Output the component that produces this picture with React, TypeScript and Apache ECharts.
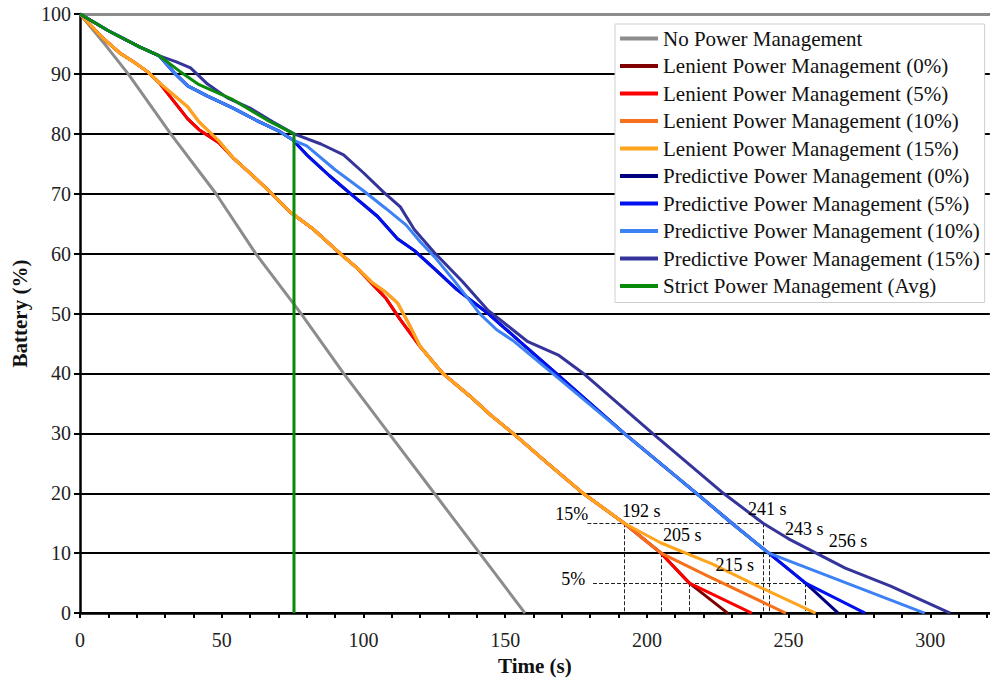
import { useEffect, useRef } from 'react';
import * as echarts from 'echarts';

const FONT = "'Liberation Serif', 'Times New Roman', serif";

const seriesNames = [
  'No Power Management',
  'Lenient Power Management (0%)',
  'Lenient Power Management (5%)',
  'Lenient Power Management (10%)',
  'Lenient Power Management (15%)',
  'Predictive Power Management (0%)',
  'Predictive Power Management (5%)',
  'Predictive Power Management (10%)',
  'Predictive Power Management (15%)',
  'Strict Power Management (Avg)',
];

const seriesColors = [
  '#8c8c8c', '#800000', '#ff0000', '#f7701c', '#ffa41c',
  '#000080', '#0010ee', '#3d82f5', '#34349a', '#0a8a0a',
];

const xTicks = [0, 50, 100, 150, 200, 250, 300];

// [time (s), battery (%)]
const noPM = [
  [0, 100], [9, 94.8], [17, 90], [32, 80], [48, 70], [62, 60], [78, 50],
  [93, 40], [109, 30], [125, 20], [141, 10], [149, 5], [157, 0],
];

const strictAvg = [
  [0, 100], [10, 97.2], [21, 94.5], [28, 93], [35, 90.5], [42, 88.2], [54, 85.7],
  [66, 82.3], [75.5, 80], [75.5, 0],
];

const lenientEarly = [
  [0, 100], [8, 96], [14, 93.5], [19, 92], [24, 90.3], [28, 88.5],
];
const lenientEarlyA = [
  [33, 85.5], [38, 82.5], [42, 80.7], [49, 78.5],
];
const lenientEarlyB = [
  [33, 86.5], [38, 84.5], [42, 82], [49, 78.8],
];
const lenientMidA = [
  [54, 76], [61, 73], [67.7, 70], [74, 67], [82, 64.2], [91.8, 60], [98, 57.5],
  [103, 55], [108, 52.5], [113, 49],
];
const lenientMidB = [
  [54, 76], [61, 73], [67.7, 70], [74, 67], [82, 64.2], [91.8, 60], [98, 57.5],
  [103, 55.2], [108, 53.5], [112, 51.8], [116, 48.3],
];
const lenientLate = [
  [120, 44.5], [128, 40], [137.6, 36.2], [145, 33], [152.8, 30], [165, 25],
  [177.5, 20], [192, 15],
];
const lenientTo10 = [[205, 10]];
const lenientTo5 = [[215, 5]];
const lenient0Tail = [[228.5, 0]];
const lenient5Tail = [[237, 0]];
const lenient10Tail = [[221, 6.3], [249, 0]];
const lenient15Tail = [[205, 11.7], [223, 8.2], [240, 4.3], [259.5, 0]];

const predictiveEarly = [
  [0, 100], [10, 97.2], [21, 94.5], [28, 93],
];
const predictiveBlueMid = [
  [33, 90.3], [38, 88], [45, 86.3], [54, 84.3], [62, 82.3], [70, 80.5], [75, 79],
];
const predictive5Mid = [
  [80, 76.5], [88, 73], [95, 70.2], [105, 66.2], [112, 62.5], [118, 60.5],
  [125, 57.5], [133, 54], [144, 50], [150, 47.5], [156, 45], [168, 40],
];
const predictive10Mid = [
  [80, 78], [90, 74], [100, 70.5], [108, 67.5], [115, 64.8], [120, 62],
  [125, 59.5], [132, 55.5], [141, 50], [147, 47.3], [153, 45.4], [168, 39.5],
];
const predictiveLate = [
  [192, 30], [217.5, 20], [230, 15], [243, 10],
];
const predictiveTo5 = [[256, 5]];
const predictive0Tail = [[267.5, 0]];
const predictive5Tail = [[277, 0]];
const predictive10Tail = [[298, 0]];
const predictive15 = [
  [34, 92], [39, 91], [45, 88.3], [52, 86], [60, 84.3], [68, 82], [75.5, 80],
  [85, 78.3], [93, 76.5], [100, 73.5], [107, 70.3], [113, 67.8], [118, 64],
  [125, 60.2], [135, 55.3], [144, 50.5], [150, 48.3], [158, 45.3], [169, 43],
  [177.6, 40], [202, 30], [227, 20], [241, 15], [250, 12.4], [270, 7.5],
  [286, 4.5], [307, 0],
];

// annotation guides
const thresholdLines = [
  { from: [179, 15], to: [241, 15] },
  { from: [181, 5], to: [256, 5] },
  { from: [192, 15], to: [192, 0] },
  { from: [205, 10], to: [205, 0] },
  { from: [215, 5], to: [215, 0] },
  { from: [241, 15], to: [241, 0] },
  { from: [243, 10], to: [243, 0] },
  { from: [256, 5], to: [256, 0] },
];
const annotationLabels = [
  { text: '15%', at: [173.5, 16.5] },
  { text: '5%', at: [174, 5.7] },
  { text: '192 s', at: [198, 17] },
  { text: '205 s', at: [212.5, 13] },
  { text: '215 s', at: [231, 8] },
  { text: '241 s', at: [242.5, 17.3] },
  { text: '243 s', at: [255.5, 14] },
  { text: '256 s', at: [271, 12] },
];

const seriesData = [
  noPM,
  [...lenientEarly, ...lenientEarlyA, ...lenientMidA, ...lenientLate, ...lenientTo10, ...lenientTo5, ...lenient0Tail],
  [...lenientEarly, ...lenientEarlyA, ...lenientMidA, ...lenientLate, ...lenientTo10, ...lenientTo5, ...lenient5Tail],
  [...lenientEarly, ...lenientEarlyB, ...lenientMidB, ...lenientLate, ...lenientTo10, ...lenient10Tail],
  [...lenientEarly, ...lenientEarlyB, ...lenientMidB, ...lenientLate, ...lenient15Tail],
  [...predictiveEarly, ...predictiveBlueMid, ...predictive5Mid, ...predictiveLate, ...predictiveTo5, ...predictive0Tail],
  [...predictiveEarly, ...predictiveBlueMid, ...predictive5Mid, ...predictiveLate, ...predictiveTo5, ...predictive5Tail],
  [...predictiveEarly, ...predictiveBlueMid, ...predictive10Mid, ...predictiveLate, ...predictive10Tail],
  [...predictiveEarly, ...predictive15],
  strictAvg,
];

export default function App() {
  const ref = useRef<HTMLDivElement>(null);

  useEffect(() => {
    if (!ref.current) return;
    const chart = echarts.init(ref.current, null, { renderer: 'svg' });

    const lineSeries = seriesNames.map((name, i) => ({
      name,
      type: 'line',
      data: seriesData[i],
      showSymbol: false,
      symbol: 'none',
      lineStyle: { color: seriesColors[i], width: 3 },
      itemStyle: { color: seriesColors[i] },
      z: 3 + i,
      silent: true,
    }));

    const option = {
      animation: false,
      backgroundColor: '#ffffff',
      grid: { left: 80, right: 0, top: 14, bottom: 67, containLabel: false },
      xAxis: {
        type: 'value',
        min: 0,
        max: 321,
        interval: 10,
        name: 'Time (s)',
        nameLocation: 'middle',
        nameGap: 40,
        nameTextStyle: { fontFamily: FONT, fontSize: 21, fontWeight: 'bold', color: '#111' },
        axisLine: { show: true, lineStyle: { color: '#000', width: 2.5 } },
        axisTick: { show: true, inside: false, length: 5, lineStyle: { color: '#000', width: 2 } },
        axisLabel: {
          fontFamily: FONT,
          fontSize: 20,
          color: '#222',
          margin: 17,
          showMaxLabel: false,
          formatter: (v: number) => (xTicks.includes(v) ? String(v) : ''),
        },
        splitLine: { show: false },
      },
      yAxis: {
        type: 'value',
        min: 0,
        max: 100,
        interval: 10,
        name: 'Battery (%)',
        nameLocation: 'middle',
        nameGap: 50,
        nameRotate: 90,
        nameTextStyle: { fontFamily: FONT, fontSize: 21, fontWeight: 'bold', color: '#111' },
        axisLine: { show: true, lineStyle: { color: '#000', width: 2.5 } },
        axisTick: { show: true, inside: false, length: 6, lineStyle: { color: '#000', width: 2 } },
        axisLabel: { fontFamily: FONT, fontSize: 20, color: '#222', margin: 9 },
        splitLine: { show: true, lineStyle: { color: '#000', width: 2 } },
      },
      legend: {
        data: seriesNames,
        orient: 'vertical',
        left: 615,
        top: 24,
        padding: [4, 5, 6, 5],
        itemGap: 6.5,
        itemWidth: 38,
        itemHeight: 4,
        icon: 'rect',
        selectedMode: false,
        backgroundColor: '#ffffff',
        borderColor: '#cfcfcf',
        borderWidth: 1,
        textStyle: { fontFamily: FONT, fontSize: 21, lineHeight: 21, color: '#111' },
      },
      series: [
        {
          name: 'guides',
          type: 'line',
          data: [],
          silent: true,
          z: 2,
          markLine: {
            silent: true,
            symbol: ['none', 'none'],
            animation: false,
            label: { show: false },
            lineStyle: { type: 'dashed', color: '#222', width: 1 },
            data: [
              { yAxis: 100, lineStyle: { type: 'solid', color: '#8c8c8c', width: 3 } },
              ...thresholdLines.map((l) => [{ coord: l.from }, { coord: l.to }]),
            ],
          },
        },
        ...lineSeries,
        {
          name: 'annotations',
          type: 'scatter',
          silent: true,
          symbolSize: 0,
          z: 20,
          data: annotationLabels.map((a) => ({ name: a.text, value: a.at })),
          itemStyle: { color: '#000', opacity: 1 },
          label: {
            show: true,
            position: 'inside',
            formatter: (p: any) => p.name,
            fontFamily: FONT,
            fontSize: 18,
            color: '#000',
            opacity: 1,
          },
        },
      ],
    };

    chart.setOption(option as any);
    return () => chart.dispose();
  }, []);

  return <div ref={ref} style={{ width: 990, height: 681, position: 'absolute', left: 0, top: 0 }} />;
}
